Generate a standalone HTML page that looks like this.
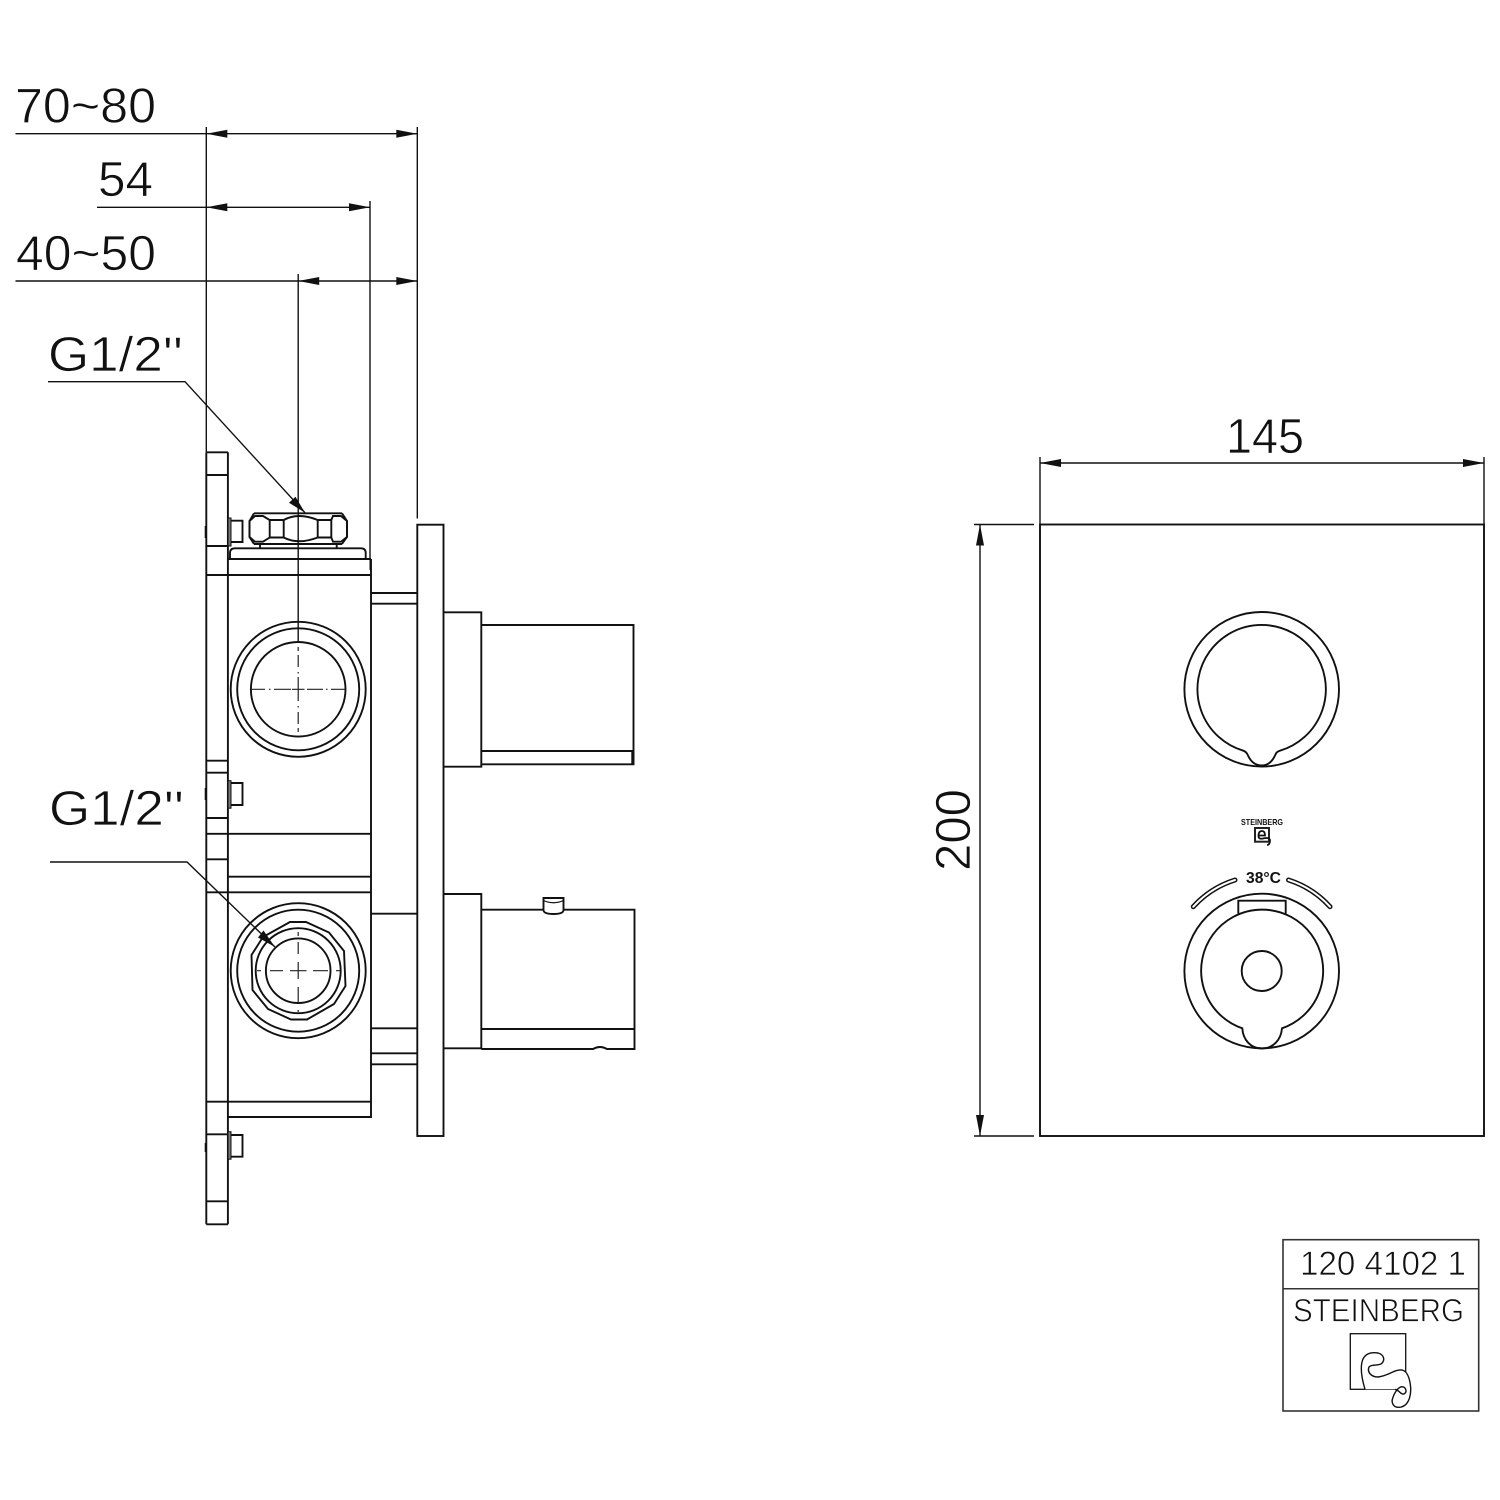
<!DOCTYPE html>
<html>
<head>
<meta charset="utf-8">
<style>
html,body{margin:0;padding:0;background:#fff}
svg{display:block}
text{font-family:"Liberation Sans",sans-serif;fill:#111}
.t{stroke:#fff;stroke-width:.7px}
</style>
</head>
<body>
<svg width="1500" height="1500" viewBox="0 0 1500 1500" xmlns="http://www.w3.org/2000/svg">
<rect width="1500" height="1500" fill="#fff"/>

<!-- dimension lines -->
<g stroke="#111" stroke-width="1.4" fill="none">
<path d="M15.5 133.7H417.3M97 207.3H370M15.5 281H417.3"/>
<path d="M206.3 127V452M417.3 127V518.5M370 201V559M298.2 274V642"/>
<path d="M48 381.7H185L305 512.7"/>
<path d="M50 862H187L275 947"/>
<path d="M1040 457V524M1484 457V524M1040 463H1484"/>
<path d="M974 524.5H1034M974 1136H1034M980 524.5V1136"/>
</g>
<g fill="#111" stroke="none">
<path d="M206.3 133.7l21-4v8z"/><path d="M417.3 133.7l-21-4v8z"/>
<path d="M206.3 207.3l21-4v8z"/><path d="M370 207.3l-21-4v8z"/>
<path d="M298.2 281l21-4v8z"/><path d="M417.3 281l-21-4v8z"/>
<path d="M1040 463l21-4v8z"/><path d="M1484 463l-21-4v8z"/>
<path d="M980 524.5l-4 21h8z"/><path d="M980 1136l-4-21h8z"/>
<path d="M305 512.7l-16-10 6.500-6z"/>
<path d="M275 947l-17-9.500 5.500-7z"/>
</g>

<!-- left plate and brackets -->
<g stroke="#111" stroke-width="1.9" fill="none">
<path d="M206.3 452.3V1224.3M227.9 452.3V1224.3M206.3 452.3H227.9M206.3 1224.3H227.9"/>
<path d="M206.3 475H227.9M206.3 546H227.9M206.3 760.7H227.9M206.3 772.7H227.9M206.3 818H227.9M206.3 859.3H227.9M206.3 1134.3H227.9M206.3 1201.3H227.9"/>
<path d="M371 559V1117H228M228 559H371M206.3 575H371M206.3 833.8H371M228 876.7H371M206.3 892.3H371M206.3 1101.7H371"/>
<!-- bolts -->
<path d="M231 520.7H242.500V542H231M231 783H242.500V805H231M231 1135H242.500V1156.700H231"/>
<path d="M230 559V553Q230 548.300 235 548.300H361Q365.700 548.300 365.700 553V559"/>
<!-- tubes -->
<path d="M371 593H417.3M371 603.7H417.3M371 913.7H417.3M371 1028.3H417.3M371 1053.3H417.3M371 1064.3H417.3"/>
<!-- front plate -->
<rect x="417.3" y="524.7" width="26.2" height="611.3"/>
<!-- handle top -->
<path d="M443.5 612.3H481.3V766.7H443.500"/>
<path d="M481.3 625H633.5V764.3H481.3M481.3 751H633.5"/>
<path d="M632.800 751V764.300" stroke-width="3"/>
<!-- handle bottom -->
<path d="M443.5 894H481.3V1048.3H443.500"/>
<path d="M481.3 909.7H543M564 909.7H634.5V1049H607Q600 1045 593 1049H481.3M481.3 1029H634.5"/>
<path d="M543.5 898H563.5V910Q563.5 914 553.5 914Q543.5 914 543.5 910Z"/>
<path d="M543.5 900.5Q553.5 905 563.5 900.5" stroke-width="1.2"/>
<!-- nut -->
<path d="M254 513.3H342M254 544H342M260 544V548M336.7 544V548"/>
<path d="M255 516H263L269.7 520V537.5L263 541.7H255L249.5 537V521Z"/>
<path d="M341 516H333L331.3 520V537.5L333 541.7H341L347 537V521Z"/>
<path d="M269.7 520H283.7M269.7 537.5H283.7M317.7 520H331.3M317.7 537.5H331.3M283.7 520V537.5M317.7 520V537.5"/>
<path d="M283.7 520Q298 512 317.7 520M283.7 537.5Q298 545 317.7 537.5"/>
<path d="M254 513.3L249.5 521V537L254 544M342 513.3L347 521V537L342 544"/>
<!-- top port -->
<circle cx="298.2" cy="689.3" r="67.5"/>
<circle cx="298.2" cy="689.3" r="61"/>
<circle cx="298.2" cy="689.3" r="47.3"/>
<!-- bottom port -->
<circle cx="298.2" cy="970.7" r="67.5"/>
<circle cx="298.2" cy="970.7" r="61"/>
<circle cx="298.2" cy="970.7" r="42.5"/>
<circle cx="298.2" cy="970.7" r="32.3"/>
<path d="M290 922H306L329 932.5L344 951L345.5 986L334 1004L307 1019.5H291L268 1009L252.5 990L251.5 955L263 937Z"/>
</g>
<!-- thick details -->
<g fill="#777" stroke="#111" stroke-width="1">
<rect x="228" y="518" width="3" height="28"/>
<rect x="228" y="780.7" width="3" height="27.5"/>
<rect x="228" y="1131.7" width="3" height="27.5"/>
</g>
<path d="M205.7 526V538M205.7 788V800M205.7 1143V1152M370.5 560V570" stroke="#111" stroke-width="2" fill="none"/>
<!-- centre lines -->
<g stroke="#222" stroke-width="1.2" fill="none">
<path d="M251 689.3H265M269 689.3H270.5M274 689.3H291M292 689.3H304.5M307 689.3H323M326 689.3H327.5M331 689.3H345"/>
<path d="M298.2 647V651M298.2 655V667M298.2 672V673.5M298.2 677V701M298.2 706V707.5M298.2 712V724M298.2 728V732"/>
<path d="M257 970.7H261M270 970.7H283M290 970.7H306.5M313 970.7H328M336 970.7H340"/>
<path d="M298.2 932V936M298.2 942V954M298.2 962V979M298.2 987V1003M298.2 1010V1012"/>
</g>

<!-- front view -->
<g stroke="#111" stroke-width="1.9" fill="none">
<rect x="1040" y="524.5" width="444" height="611.5"/>
<circle cx="1261.7" cy="689.3" r="77.3"/>
<path d="M1243.3 750.700A64.200 64.200 0 1 1 1280 750.700C1277 751.500 1276 753 1275 755.500C1272 762 1268 765.500 1261.700 765.500C1255.500 765.500 1251 762 1248 755.500C1247 753 1246 751.500 1243.300 750.700Z"/>
<circle cx="1261.7" cy="971" r="77.3"/>
<circle cx="1261.7" cy="971" r="20"/>
<path d="M1242.3 1028.300A61 61 0 1 1 1282 1028.300C1281 1040 1273 1048.500 1261.700 1048.500C1251 1048.500 1243 1040 1242.300 1028.300Z"/>
<path d="M1238.300 913.500V900.700H1285.700V913.500"/>
</g>
<path d="M1193.3 906.7A94.5 94.5 0 0 1 1235 880M1330 906.7A94.5 94.5 0 0 0 1288.5 880" stroke="#111" stroke-width="5" stroke-linecap="round" fill="none"/>
<path d="M1193.3 906.7A94.5 94.5 0 0 1 1235 880M1330 906.7A94.5 94.5 0 0 0 1288.5 880" stroke="#fff" stroke-width="2" stroke-linecap="round" fill="none"/>
<text x="1246" y="883" font-size="15.5" font-weight="bold" textLength="35" lengthAdjust="spacingAndGlyphs">38°C</text>
<text x="1241" y="825" font-size="8.5" font-weight="bold" textLength="42" lengthAdjust="spacingAndGlyphs">STEINBERG</text>
<rect x="1255" y="828" width="14" height="13.7" fill="none" stroke="#222" stroke-width="2"/>
<path d="M1259 835.500H1265Q1265 831 1262 831Q1258.500 831 1258.500 836Q1258.500 839.500 1263 838.500Q1269 837 1270 840Q1270 845 1267 845" fill="none" stroke="#111" stroke-width="1.8"/>

<!-- title block -->
<g stroke="#333" fill="none">
<rect x="1283" y="1239.7" width="195.7" height="171.3" stroke-width="1.6"/>
<path d="M1283 1288.7H1478.7" stroke-width="1.5"/>
<rect x="1350.3" y="1333.7" width="55.4" height="55.6" stroke-width="1.3" stroke="#111"/>
</g>
<path d="M1365 1389.300C1361 1376 1360 1366 1363 1359C1366 1353 1372 1352 1378 1353C1385 1355 1385 1361 1381 1364C1376 1366 1372 1364 1369 1367C1367 1372 1371 1377 1378 1377C1388 1376 1395 1369 1402 1370C1407 1371 1410 1378 1410.700 1388C1411 1397 1408 1407.300 1398.300 1407.300C1393 1407.300 1391 1402 1392.800 1398C1394.500 1392 1399 1386.700 1402 1386.700C1406 1387 1407.500 1392 1404 1394C1401 1395 1399 1390 1395 1389.300" fill="#fff" stroke="#111" stroke-width="1.4"/>

<!-- labels -->
<g class="t">
<text x="15" y="122.7" font-size="49" textLength="141" lengthAdjust="spacingAndGlyphs">70~80</text>
<text x="98" y="196" font-size="49" textLength="55" lengthAdjust="spacingAndGlyphs">54</text>
<text x="16" y="270" font-size="49" textLength="140" lengthAdjust="spacingAndGlyphs">40~50</text>
<text x="48" y="371" font-size="49" textLength="135" lengthAdjust="spacingAndGlyphs">G1/2''</text>
<text x="49" y="825" font-size="49" textLength="135" lengthAdjust="spacingAndGlyphs">G1/2''</text>
<text x="1226" y="453" font-size="49" textLength="78" lengthAdjust="spacingAndGlyphs">145</text>
<text transform="translate(970 871) rotate(-90)" font-size="49" textLength="82" lengthAdjust="spacingAndGlyphs">200</text>
<text x="1300" y="1275" font-size="34" textLength="166" lengthAdjust="spacingAndGlyphs">120 4102 1</text>
</g>
<text x="1293" y="1321.7" font-size="32" textLength="171" lengthAdjust="spacingAndGlyphs" stroke="#fff" stroke-width=".8">STEINBERG</text>
</svg>
</body>
</html>
